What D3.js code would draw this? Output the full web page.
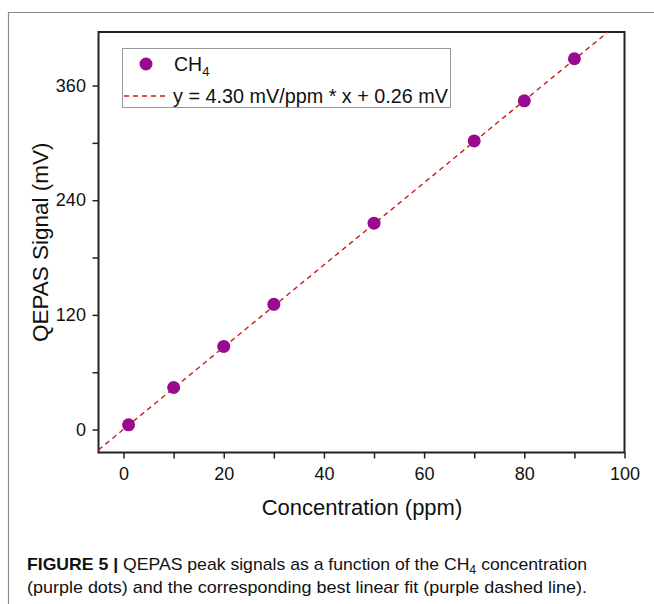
<!DOCTYPE html>
<html>
<head>
<meta charset="utf-8">
<script src="https://cdn.jsdelivr.net/npm/d3@7"></script>
<style>
  body { margin: 0; background: #fff; }
  svg text { font-family: "Liberation Sans", Arial, sans-serif; fill: #111; }
</style>
</head>
<body>
<div id="okvir"></div>
<script>
// podaci
const koncentracije = [1, 10, 20, 30, 50, 70, 80, 90]
const signali = [5, 44, 87, 131, 216, 302, 344, 388]
const nagib = 4.30
const odsjecak = 0.26
const xTickovi = [0, 20, 40, 60, 80, 100]
const yTickovi = [0, 120, 240, 360]

const sirina = 654
const visina = 604
const okvirGrafa = { left: 98.5, right: 624.5, top: 32, bottom: 452.5 }

const svg = d3.select("#okvir").append("svg")
    .attr("width", sirina)
    .attr("height", visina)

// rub stranice
svg.append("path")
    .attr("d", `M8.5,${visina} V12.5 H${sirina}`)
    .attr("fill", "none")
    .attr("stroke", "#8a8a8a")
    .attr("stroke-width", 1.2)

const x = d3.scaleLinear().domain([-5, 100]).range([okvirGrafa.left, okvirGrafa.right])
const y = d3.scaleLinear().domain([-24, 416]).range([okvirGrafa.bottom, okvirGrafa.top])

svg.append("clipPath").attr("id", "isjecak")
  .append("rect")
    .attr("x", okvirGrafa.left).attr("y", okvirGrafa.top)
    .attr("width", okvirGrafa.right - okvirGrafa.left)
    .attr("height", okvirGrafa.bottom - okvirGrafa.top)

// osi
const xOs = svg.append("g")
    .attr("transform", `translate(0,${okvirGrafa.bottom})`)
    .call(d3.axisBottom(x).tickValues(d3.range(0, 101, 10)).tickSize(6).tickSizeOuter(0)
      .tickFormat(d => xTickovi.includes(d) ? d : ""))
xOs.selectAll("text").attr("font-size", 18).attr("dy", "1.05em")

const yOs = svg.append("g")
    .attr("transform", `translate(${okvirGrafa.left},0)`)
    .call(d3.axisLeft(y).tickValues(d3.range(0, 361, 60)).tickSize(6).tickSizeOuter(0)
      .tickFormat(d => yTickovi.includes(d) ? d : ""))
yOs.selectAll("text").attr("font-size", 18).attr("dx", "-0.2em")

svg.selectAll(".domain").remove()
svg.selectAll(".tick line").attr("stroke", "#222").attr("stroke-width", 1.5)

svg.append("rect")
    .attr("x", okvirGrafa.left).attr("y", okvirGrafa.top)
    .attr("width", okvirGrafa.right - okvirGrafa.left)
    .attr("height", okvirGrafa.bottom - okvirGrafa.top)
    .attr("fill", "none")
    .attr("stroke", "#222")
    .attr("stroke-width", 2)

// naslovi osi
svg.append("text")
    .attr("x", 362)
    .attr("y", 515)
    .attr("text-anchor", "middle")
    .attr("font-size", 22)
    .text("Concentration (ppm)")

svg.append("text")
    .attr("transform", `translate(48,${(okvirGrafa.top + okvirGrafa.bottom) / 2}) rotate(-90)`)
    .attr("text-anchor", "middle")
    .attr("font-size", 22.5)
    .text("QEPAS Signal (mV)")

// pravac
const pravac = d3.line().x(d => x(d)).y(d => y(nagib * d + odsjecak))
svg.append("path")
    .datum(x.domain())
    .attr("clip-path", "url(#isjecak)")
    .attr("d", pravac)
    .attr("fill", "none")
    .attr("stroke", "#cc1a1a")
    .attr("stroke-width", 1.4)
    .attr("stroke-dasharray", "5,4")

// tocke
svg.append("g").selectAll("circle")
  .data(koncentracije)
  .join("circle")
    .attr("cx", d => x(d))
    .attr("cy", (d, i) => y(signali[i]))
    .attr("r", 6.5)
    .attr("fill", "#990a8f")

// legenda
const legenda = svg.append("g")
legenda.append("rect")
    .attr("x", 122.5).attr("y", 48.5)
    .attr("width", 328).attr("height", 59)
    .attr("fill", "#fff")
    .attr("stroke", "#999")
    .attr("stroke-width", 1)
legenda.append("circle")
    .attr("cx", 146).attr("cy", 64).attr("r", 6.5)
    .attr("fill", "#990a8f")
const ch4 = legenda.append("text")
    .attr("x", 174).attr("y", 71)
    .attr("font-size", 19.5)
ch4.append("tspan").text("CH")
ch4.append("tspan").attr("font-size", 13).attr("dy", 5).text("4")
legenda.append("line")
    .attr("x1", 124).attr("x2", 166)
    .attr("y1", 96).attr("y2", 96)
    .attr("stroke", "#cc1a1a")
    .attr("stroke-width", 1.4)
    .attr("stroke-dasharray", "5,4")
legenda.append("text")
    .attr("x", 173).attr("y", 103)
    .attr("font-size", 19.5)
    .attr("textLength", 275)
    .attr("lengthAdjust", "spacingAndGlyphs")
    .text("y = 4.30 mV/ppm * x + 0.26 mV")

// potpis slike
const red1 = svg.append("text")
    .attr("x", 27).attr("y", 570)
    .attr("font-size", 17)
    .attr("textLength", 560)
    .attr("lengthAdjust", "spacingAndGlyphs")
red1.append("tspan").attr("font-weight", "bold").text("FIGURE 5 | ")
red1.append("tspan").text("QEPAS peak signals as a function of the CH")
red1.append("tspan").attr("font-size", 12).attr("dy", 4).text("4")
red1.append("tspan").attr("dy", -4).text(" concentration")

svg.append("text")
    .attr("x", 27).attr("y", 593)
    .attr("font-size", 17)
    .attr("textLength", 560)
    .attr("lengthAdjust", "spacingAndGlyphs")
    .text("(purple dots) and the corresponding best linear fit (purple dashed line).")
</script>
</body>
</html>
